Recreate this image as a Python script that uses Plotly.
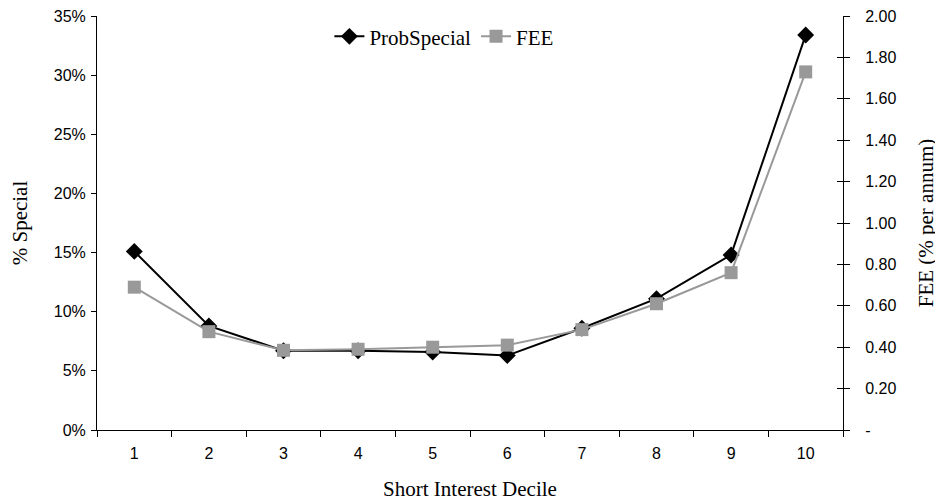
import plotly.graph_objects as go

deciles = ["1", "2", "3", "4", "5", "6", "7", "8", "9", "10"]
prob_special = [15.1, 8.8, 6.7, 6.7, 6.6, 6.3, 8.6, 11.1, 14.8, 33.4]  # percent
fee = [0.69, 0.475, 0.385, 0.39, 0.40, 0.41, 0.485, 0.61, 0.76, 1.73]  # % per annum

left_ticks = [0, 5, 10, 15, 20, 25, 30, 35]
left_ticktext = ["0%", "5%", "10%", "15%", "20%", "25%", "30%", "35%"]
right_ticks = [0, 0.2, 0.4, 0.6, 0.8, 1.0, 1.2, 1.4, 1.6, 1.8, 2.0]
right_ticktext = ["-", "0.20", "0.40", "0.60", "0.80", "1.00", "1.20", "1.40", "1.60", "1.80", "2.00"]

SERIF = "Liberation Serif, Times New Roman, serif"
SANS = "Liberation Sans, Arial, sans-serif"

fig = go.Figure()
fig.add_trace(go.Scatter(
    x=deciles, y=prob_special, name="ProbSpecial", mode="lines+markers",
    line=dict(color="black", width=2),
    marker=dict(symbol="diamond", size=13, color="black"),
    yaxis="y",
))
fig.add_trace(go.Scatter(
    x=deciles, y=fee, name="FEE", mode="lines+markers",
    line=dict(color="#999999", width=2),
    marker=dict(symbol="square", size=13, color="#999999"),
    yaxis="y2",
))
# invisible trace to activate yaxis3 (inside tick marks on the right axis)
fig.add_trace(go.Scatter(x=[deciles[0]], y=[None], yaxis="y3", showlegend=False, hoverinfo="skip"))

fig.update_layout(
    width=935, height=493,
    margin=dict(l=89, r=100, t=8, b=71, autoexpand=False),
    paper_bgcolor="white", plot_bgcolor="white",
    showlegend=True,
    legend=dict(
        orientation="h", x=0.465, y=0.95, xanchor="center", yanchor="middle",
        font=dict(family=SERIF, size=21, color="black"),
        bgcolor="rgba(0,0,0,0)",
    ),
    xaxis=dict(
        type="category", range=[-0.5, 9.5], tickson="boundaries", ticks="outside", ticklen=6,
        tickcolor="black", showline=True, linecolor="black", linewidth=1,
        showgrid=False, zeroline=False, ticklabelstandoff=9,
        tickfont=dict(family=SANS, size=16, color="black"),
        title=dict(text="Short Interest Decile", font=dict(family=SERIF, size=21, color="black"), standoff=26),
    ),
    yaxis=dict(
        range=[0, 35], tickvals=left_ticks, ticktext=left_ticktext,
        ticks="outside", ticklen=5, tickcolor="black",
        showline=True, linecolor="black", linewidth=1,
        showgrid=False, zeroline=False, ticklabelstandoff=2,
        ticklabeloverflow="allow",
        tickfont=dict(family=SANS, size=16, color="black"),
        title=dict(text="% Special", font=dict(family=SERIF, size=21, color="black"), standoff=37),
    ),
    yaxis2=dict(
        range=[0, 2.0], tickvals=right_ticks, ticktext=right_ticktext,
        overlaying="y", side="right", anchor="x",
        ticks="outside", ticklen=6, tickcolor="black",
        showline=True, linecolor="black", linewidth=1,
        showgrid=False, zeroline=False, ticklabelstandoff=12,
        ticklabeloverflow="allow",
        tickfont=dict(family=SANS, size=16, color="black"),
        title=dict(text="FEE (% per annum)", font=dict(family=SERIF, size=21, color="black"), standoff=22),
    ),
    yaxis3=dict(
        range=[0, 2.0], tickvals=right_ticks, overlaying="y", side="right", anchor="x",
        ticks="inside", ticklen=6, tickcolor="black", showticklabels=False,
        showline=False, showgrid=False, zeroline=False,
    ),
)

fig.write_html("out.html")
